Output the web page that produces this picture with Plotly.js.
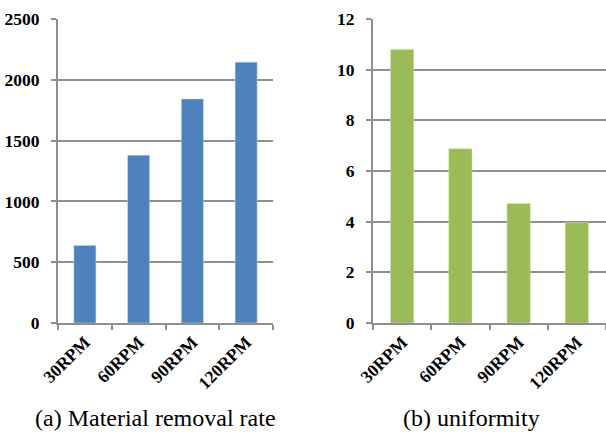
<!DOCTYPE html>
<html>
<head>
<meta charset="utf-8">
<script src="https://cdn.plot.ly/plotly-3.0.1.min.js"></script>
<style>html,body{margin:0;padding:0;background:#fff;}#chart{width:606px;height:434px;}</style>
</head>
<body>
<div id="chart"></div>
<script>
var categories = ["30RPM", "60RPM", "90RPM", "120RPM"];
var removalRate = [638, 1380, 1842, 2145];
var uniformity = [10.8, 6.88, 4.72, 3.96];
var captionA = "(a) Material removal rate";
var captionB = "(b) uniformity";

(function () {
  var W = 606, H = 434;
  var plotTop = 19, plotBottom = 323;
  var tickFont = {family: "Liberation Serif, Times New Roman, serif", size: 17.5, color: "#000", weight: "bold"};
  var gridCol = "#8f8f8f";

  function xax(domain, anchor) {
    return {
      domain: domain, anchor: anchor, type: "category",
      showline: true, linecolor: gridCol, linewidth: 2,
      ticks: "outside", tickson: "boundaries", ticklen: 5, tickcolor: gridCol, tickwidth: 2,
      tickangle: -45, tickfont: tickFont, showgrid: false, automargin: false, fixedrange: true
    };
  }
  function yax(range, dtick, anchor) {
    return {
      range: range, dtick: dtick, anchor: anchor,
      showline: true, linecolor: gridCol, linewidth: 2,
      showgrid: true, gridcolor: gridCol, gridwidth: 2,
      ticks: "outside", ticklen: 5, tickcolor: gridCol, tickwidth: 2,
      tickfont: tickFont, zeroline: false, automargin: false, ticklabelstandoff: 8, fixedrange: true
    };
  }

  var data = [
    {type: "bar", x: categories, y: removalRate, xaxis: "x", yaxis: "y",
     marker: {color: "#4f81bd", line: {color: "#c9d9ee", width: 0.5}}, width: 0.41, hoverinfo: "none"},
    {type: "bar", x: categories, y: uniformity, xaxis: "x2", yaxis: "y2",
     marker: {color: "#9bbb59", line: {color: "#d6e5bd", width: 0.5}}, width: 0.4, hoverinfo: "none"}
  ];

  var capY = (plotBottom - 418) / (plotBottom - plotTop);
  var capFont = {family: "Liberation Serif, Times New Roman, serif", size: 24, color: "#000"};
  var layout = {
    width: W, height: H,
    margin: {l: 0, r: 0, t: plotTop, b: H - plotBottom, pad: 0},
    paper_bgcolor: "#fff", plot_bgcolor: "#fff",
    showlegend: false,
    xaxis: xax([58 / W, 273 / W], "y"),
    yaxis: yax([0, 2500], 500, "x"),
    xaxis2: xax([373 / W, 1], "y2"),
    yaxis2: yax([0, 12], 2, "x2"),
    annotations: [
      {text: captionA, xref: "paper", yref: "paper", x: 155 / W, y: capY,
       xanchor: "center", yanchor: "middle", showarrow: false, font: capFont},
      {text: captionB, xref: "paper", yref: "paper", x: 471 / W, y: capY,
       xanchor: "center", yanchor: "middle", showarrow: false, font: capFont}
    ]
  };

  Plotly.newPlot("chart", data, layout, {displayModeBar: false, staticPlot: true});
})();
</script>
</body>
</html>
